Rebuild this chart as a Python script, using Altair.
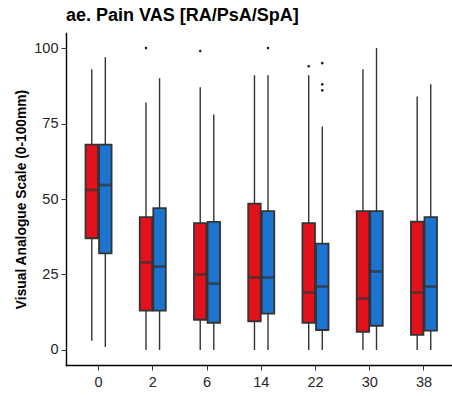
import altair as alt
import pandas as pd

weeks = ["0", "2", "6", "14", "22", "30", "38"]
groups = ["A", "B"]
# per week: [red, blue]
lower_whisker = [[3, 1], [0, 0], [0, 0], [0, 0], [0, 0], [0, 0], [0, 0]]
q1 = [[37, 32], [13, 13], [10, 9], [9.5, 12], [9, 6.6], [6, 8], [5, 6.4]]
median = [[53, 54.6], [29, 27.6], [25, 22], [24, 24], [19, 21], [17, 26], [19, 21]]
q3 = [[68, 68], [44, 47], [42, 42.4], [48.5, 46], [42, 35.2], [46, 46], [42.5, 44]]
upper_whisker = [[93, 97], [82, 90], [87, 78], [91, 91], [91, 74], [93, 100], [84, 88]]
outliers = [
    ("2", "A", 100), ("6", "A", 99), ("14", "B", 100),
    ("22", "A", 94), ("22", "B", 95), ("22", "B", 88), ("22", "B", 86),
]

rows = []
for i, w in enumerate(weeks):
    for j, g in enumerate(groups):
        rows.append(dict(week=w, group=g, lo=lower_whisker[i][j], q1=q1[i][j],
                         med=median[i][j], q3=q3[i][j], hi=upper_whisker[i][j]))
df = pd.DataFrame(rows)
out_df = pd.DataFrame(outliers, columns=["week", "group", "value"])

xenc = alt.X("week:N", sort=weeks, title=None,
             scale=alt.Scale(domain=weeks, paddingInner=0, paddingOuter=0.1, range=[0, 390.5]),
             axis=alt.Axis(labelAngle=0, labelFontSize=14.5, labelColor="#262626", labelFont="Liberation Sans",
                           domainColor="#000", domainWidth=1.4, tickColor="#333", tickSize=5,
                           labelPadding=5, grid=False))
xoff = alt.XOffset("group:N", scale=alt.Scale(domain=groups, paddingOuter=1, paddingInner=0))
color = alt.Color("group:N", scale=alt.Scale(domain=groups, range=["#E3111B", "#1B74CF"]), legend=None)

base = alt.Chart(df)

yax = alt.Axis(values=[0, 25, 50, 75, 100], labelFontSize=14.5, labelColor="#262626", labelFont="Liberation Sans",
               domainColor="#000", domainWidth=1.4, tickColor="#333", tickSize=5, grid=False,
               labelPadding=3,
               title="Visual Analogue Scale (0-100mm)", titleFontSize=13.8, titleFont="Liberation Sans",
               titleFontWeight="bold", titleColor="#000", titlePadding=5)
yscale = alt.Scale(domain=[-5, 105], nice=False, zero=False)

whisk = base.mark_rule(color="#333", strokeWidth=1.4).encode(
    x=xenc, xOffset=xoff,
    y=alt.Y("lo:Q", scale=yscale, axis=yax), y2="hi:Q")

box = base.mark_bar(size=12.5, stroke="#333", strokeWidth=1.8).encode(
    x=xenc, xOffset=xoff, y=alt.Y("q1:Q", scale=yscale), y2="q3:Q", color=color)

med = base.mark_tick(size=12.5, thickness=2.8, color="#333", orient="horizontal").encode(
    x=xenc, xOffset=xoff, y=alt.Y("med:Q", scale=yscale))

pts = alt.Chart(out_df).mark_circle(size=7, color="#222", opacity=1).encode(
    x=xenc, xOffset=xoff, y=alt.Y("value:Q", scale=yscale))

chart = alt.layer(whisk, box, med, pts).properties(
    width=385, height=332,
    title=alt.TitleParams("ae. Pain VAS [RA/PsA/SpA]", anchor="start", frame="group", fontSize=18,
                          font="Liberation Sans", fontWeight="bold", color="#000", offset=8),
    autosize=alt.AutoSizeParams(type="none"),
    padding={"left": 66, "top": 33, "right": 1, "bottom": 31},
).configure_view(stroke=None).configure_axis(domainCap="square")

chart.save("out.html", embed_options={"renderer": "svg", "actions": False})
